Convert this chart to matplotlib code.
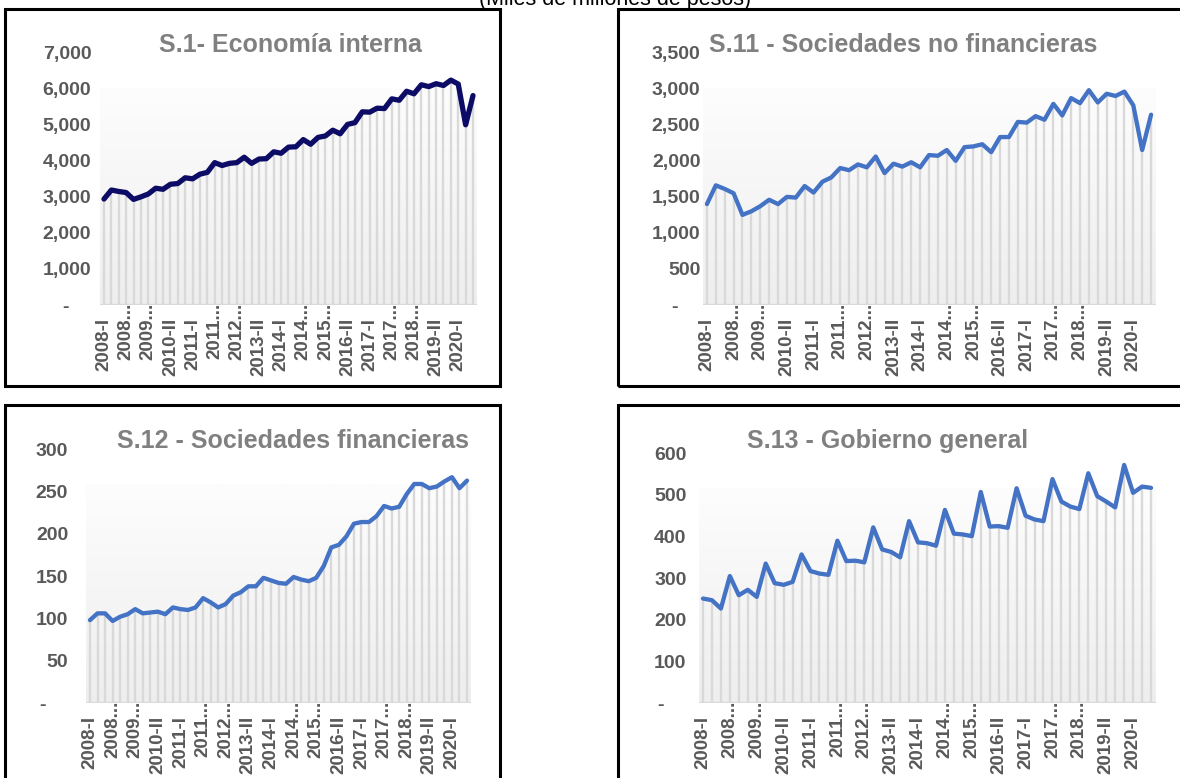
import numpy as np
import matplotlib.pyplot as plt
from matplotlib.patches import Rectangle
from matplotlib.colors import LinearSegmentedColormap

plt.rcParams['font.family'] = ['Liberation Sans', 'DejaVu Sans']

W, H = 1180, 778

# quarterly categories 2008-I .. 2020-III
quarters = [f"{y}-{q}" for y in range(2008, 2021) for q in ["I", "II", "III", "IV"]][:51]
tick_labels = ["2008-I", "2008...", "2009...", "2010-II", "2011-I", "2011...", "2012...",
               "2013-II", "2014-I", "2014...", "2015...", "2016-II", "2017-I", "2017...",
               "2018...", "2019-II", "2020-I"]

s1_economia = [2940, 3190, 3150, 3120, 2930, 3000, 3080, 3240, 3210, 3350, 3370, 3530, 3500,
               3630, 3680, 3950, 3870, 3930, 3950, 4100, 3930, 4050, 4060, 4250, 4210, 4380,
               4390, 4590, 4460, 4650, 4690, 4850, 4750, 5010, 5060, 5360, 5350, 5460, 5450,
               5720, 5680, 5930, 5860, 6110, 6060, 6140, 6090, 6240, 6130, 5000, 5810]
s11_no_fin = [1400, 1660, 1610, 1550, 1250, 1300, 1370, 1460, 1400, 1500, 1490, 1650, 1560,
              1710, 1770, 1900, 1870, 1950, 1910, 2060, 1830, 1960, 1920, 1980, 1910, 2080,
              2070, 2150, 2000, 2190, 2200, 2230, 2120, 2330, 2330, 2540, 2530, 2620, 2570,
              2790, 2630, 2870, 2800, 2980, 2810, 2930, 2900, 2960, 2770, 2150, 2640]
s12_fin = [98, 106, 106, 97, 102, 105, 111, 106, 107, 108, 105, 113, 111, 110, 113, 124, 119,
           113, 117, 127, 131, 138, 138, 148, 145, 142, 141, 149, 146, 144, 148, 162, 184, 187,
           197, 212, 214, 214, 221, 233, 230, 232, 247, 259, 259, 254, 256, 262, 267, 254, 263]
s13_gob = [251, 247, 227, 305, 259, 272, 255, 335, 288, 284, 291, 357, 317, 311, 308, 390,
           341, 342, 338, 422, 369, 363, 350, 437, 386, 384, 378, 464, 407, 405, 401, 507,
           424, 425, 421, 516, 450, 441, 437, 538, 484, 472, 466, 552, 497, 484, 470, 572,
           505, 520, 517]

x = np.arange(len(quarters))

fig = plt.figure(figsize=(W / 100, H / 100), dpi=100)


def frect(l, t, r, b):
    return [l / W, 1 - b / H, (r - l) / W, (b - t) / H]


grad_cmap = LinearSegmentedColormap.from_list("g", ["#eeeeee", "#fdfdfd"])

panels = [
    ("S.1- Economía interna", s1_economia, "#0c0c66", 3.8, 7000, 1000,
     (100.3, 52.7, 476.7, 305), 9, (5, 9, 500, 386), (290, 52.5)),
    ("S.11 - Sociedades no financieras", s11_no_fin, "#4472c4", 3.1, 3500, 500,
     (702.5, 52.7, 1155.5, 305), 2, (618, 9, 1186, 386), (903, 52.5)),
    ("S.12 - Sociedades financieras", s12_fin, "#4472c4", 3.1, 300, 50,
     (86.2, 449.3, 470.8, 703), 18, (5, 405, 500, 784), (293, 447.5)),
    ("S.13 - Gobierno general", s13_gob, "#4472c4", 3.1, 600, 100,
     (698.5, 453.3, 1155.5, 703), 12, (618, 405, 1186, 784), (888, 447.5)),
]

for title, vals, color, lw, ymax, ystep, arect, pad, box, tpos in panels:
    ax = fig.add_axes(frect(*arect))
    grad = np.linspace(0, 1, 100).reshape(-1, 1)
    ax.imshow(grad, extent=[-0.5, len(x) - 0.5, 0, 0.86 * ymax], origin="lower",
              aspect="auto", cmap=grad_cmap, zorder=0)
    ax.vlines(x, 0, vals, color="#d9d9d9", lw=1.7, zorder=1)
    ax.axhline(0, color="#d9d9d9", lw=1.7, zorder=1)
    ax.plot(x, vals, color=color, lw=lw, solid_joinstyle="round",
            solid_capstyle="round", zorder=3)
    ax.set_xlim(-0.5, len(x) - 0.5)
    ax.set_ylim(0, ymax)
    for s in ax.spines.values():
        s.set_visible(False)
    yt = np.arange(0, ymax + 1, ystep)
    ax.set_yticks(yt)
    ax.set_yticklabels(["-    " if v == 0 else f"{v:,}" for v in yt],
                       fontsize=14, fontweight="bold", color="#595959")
    ax.tick_params(axis="y", length=0, pad=pad * 0.72)
    ax.set_xticks([])
    for k, lab in enumerate(tick_labels):
        off = 1.5 if lab.endswith("...") else -9.5
        ax.annotate(lab, xy=(x[k * 3], 0), xycoords=("data", "axes fraction"),
                    xytext=(0, off), textcoords="offset points", rotation=90,
                    ha="center", va="top", fontsize=13.5, fontweight="bold",
                    color="#595959", annotation_clip=False)
    fig.text(tpos[0] / W, 1 - tpos[1] / H, title, ha="center", va="baseline",
             fontsize=18, fontweight="bold", color="#808080")
    l, t, r, b = box
    fig.add_artist(Rectangle((l / W, 1 - b / H), (r - l) / W, (b - t) / H,
                             transform=fig.transFigure, fill=False,
                             edgecolor="black", lw=2.2, zorder=5))

fig.text(615 / W, 1 - 5 / H, "(Miles de millones de pesos)", ha="center",
         va="baseline", fontsize=15.5, color="black")

fig.savefig("out.png", dpi=100)
